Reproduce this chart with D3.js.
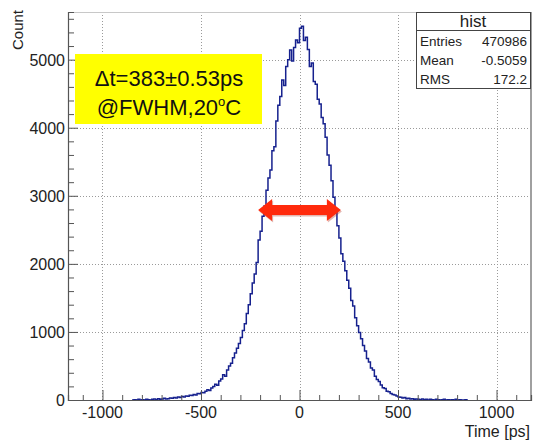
<!DOCTYPE html>
<html>
<head>
<meta charset="utf-8">
<script src="https://cdn.jsdelivr.net/npm/d3@7"></script>
<style>
  body { margin: 0; background: #fff; }
  svg { display: block; }
  text { font-family: "Liberation Sans", Arial, sans-serif; }
</style>
</head>
<body>
<div id="chart"></div>
<script>
// histogram of time differences, 10 ps bins starting at binStart
const binStart = -850;
const binWidth = 10;
const counts = [
  0, 5, 0, 10, 0, 5, 0, 10, 5, 0,
  10, 15, 5, 20, 10, 15, 25, 15, 20, 30,
  25, 35, 30, 45, 35, 50, 45, 60, 55, 70,
  65, 80, 75, 95, 90, 110, 105, 130, 150, 140,
  175, 200, 230, 215, 280, 310, 370, 350, 440, 500,
  540, 620, 690, 760, 830, 920, 1020, 1120, 1270, 1400,
  1560, 1720, 1850, 2020, 2350, 2480, 2700, 2850, 3080, 3260,
  3380, 3660, 3720, 4100, 4330, 4460, 4700, 4620, 4900, 5000,
  5140, 4980, 5180, 5290, 5250, 5460, 5490, 5280, 5330, 5150,
  4900, 4950, 4680, 4640, 4420, 4350, 4150, 4060, 3860, 3600,
  3450, 3220, 2980, 2800, 2560, 2380, 2150, 2040, 1900, 1760,
  1640, 1460, 1380, 1210, 1090, 990, 900, 800, 720, 610,
  560, 470, 440, 350, 300, 270, 220, 180, 170, 130,
  120, 95, 80, 75, 60, 45, 40, 30, 35, 20,
  25, 15, 20, 10, 15, 10, 5, 15, 5, 10,
  0, 10, 5, 0, 10, 5, 0, 5, 10, 0,
  5, 0, 5, 0, 10, 0, 5, 0, 0, 5
];

const xMajorTicks = [-1000, -500, 0, 500, 1000];
const yMajorTicks = [0, 1000, 2000, 3000, 4000, 5000];

const statsTitle = "hist";
const statsLabels = ["Entries", "Mean", "RMS"];
const statsValues = ["470986", "-0.5059", "172.2"];

// FWHM annotation
const fwhmRange = [-210, 210];
const fwhmLevel = 2790;

const width = 534, height = 441;
const frame = { left: 68, right: 531, top: 12, bottom: 400 };

const svg = d3.select('#chart').append('svg')
  .attr('width', width)
  .attr('height', height);

const x = d3.scaleLinear().domain([-1175, 1175]).range([frame.left, frame.right]);
const y = d3.scaleLinear().domain([0, 5700]).range([frame.bottom, frame.top]);

// grid
const grid = svg.append('g')
  .attr('stroke', '#9a9a9a')
  .attr('stroke-width', 1)
  .attr('stroke-dasharray', '1,2');
grid.selectAll('.gx').data(xMajorTicks).enter().append('line')
  .attr('x1', d => Math.round(x(d)) + 0.5).attr('x2', d => Math.round(x(d)) + 0.5)
  .attr('y1', frame.top).attr('y2', frame.bottom);
grid.selectAll('.gy').data(yMajorTicks.filter(d => d > 0)).enter().append('line')
  .attr('x1', frame.left).attr('x2', frame.right)
  .attr('y1', d => Math.round(y(d)) + 0.5).attr('y2', d => Math.round(y(d)) + 0.5);

// histogram as a step line
const pts = [[binStart, 0]];
counts.forEach((c, i) => pts.push([binStart + i * binWidth, c]));
pts.push([binStart + counts.length * binWidth, 0]);

const line = d3.line()
  .x(d => x(d[0]))
  .y(d => y(d[1]))
  .curve(d3.curveStepAfter);

svg.append('path')
  .attr('d', line(pts))
  .attr('fill', 'none')
  .attr('stroke', '#16218e')
  .attr('stroke-width', 1.5);

// frame
svg.append('line')
  .attr('x1', frame.left).attr('x2', frame.right)
  .attr('y1', frame.top + 0.5).attr('y2', frame.top + 0.5)
  .attr('stroke', '#c8c8c8');
svg.append('line')
  .attr('x1', frame.right).attr('x2', frame.right)
  .attr('y1', frame.top).attr('y2', frame.bottom)
  .attr('stroke', '#a0a0a0').attr('stroke-width', 2);

// axes, ROOT style ticks pointing inwards
const xAxis = d3.axisTop(x)
  .tickValues(d3.range(-1100, 1101, 100))
  .tickSize(5)
  .tickFormat('');
const xAxisG = svg.append('g').attr('transform', `translate(0,${frame.bottom})`).call(xAxis);
xAxisG.selectAll('.tick line').filter(d => d % 500 === 0).attr('y2', -10);

const yAxis = d3.axisRight(y)
  .tickValues(d3.range(0, 5601, 200))
  .tickSize(6)
  .tickFormat('');
const yAxisG = svg.append('g').attr('transform', `translate(${frame.left},0)`).call(yAxis);
yAxisG.selectAll('.tick line').filter(d => d % 1000 === 0).attr('x2', 10);

[xAxisG, yAxisG].forEach(g => {
  g.select('.domain').attr('stroke', '#555').attr('stroke-width', 1.2);
  g.selectAll('.tick line').attr('stroke', '#555');
});

// tick labels
svg.selectAll('.xl').data(xMajorTicks).enter().append('text')
  .attr('x', d => x(d))
  .attr('y', frame.bottom + 18)
  .attr('text-anchor', 'middle')
  .attr('font-size', 16)
  .attr('fill', '#222')
  .text(d => d);

svg.selectAll('.yl').data(yMajorTicks).enter().append('text')
  .attr('x', frame.left - 3)
  .attr('y', d => y(d) + 6)
  .attr('text-anchor', 'end')
  .attr('font-size', 16)
  .attr('fill', '#222')
  .text(d => d);

// axis titles
svg.append('text')
  .attr('transform', `translate(23,${frame.top - 2}) rotate(-90)`)
  .attr('text-anchor', 'end')
  .attr('font-size', 15)
  .attr('fill', '#222')
  .text('Count');

svg.append('text')
  .attr('x', frame.right - 1)
  .attr('y', 437)
  .attr('text-anchor', 'end')
  .attr('font-size', 16)
  .attr('fill', '#222')
  .text('Time [ps]');

// stats box
const sb = svg.append('g').attr('transform', 'translate(416,12)');
sb.append('rect')
  .attr('x', 0.5).attr('y', 0.5).attr('width', 114).attr('height', 76)
  .attr('fill', '#fff').attr('stroke', '#444');
sb.append('line')
  .attr('x1', 0.5).attr('x2', 114.5).attr('y1', 18.5).attr('y2', 18.5)
  .attr('stroke', '#444');
sb.append('text')
  .attr('x', 57).attr('y', 15)
  .attr('text-anchor', 'middle')
  .attr('font-size', 17)
  .attr('fill', '#222')
  .text(statsTitle);
statsLabels.forEach((lab, i) => {
  sb.append('text')
    .attr('x', 4).attr('y', 34 + i * 19)
    .attr('font-size', 13.5).attr('fill', '#222')
    .text(lab);
  sb.append('text')
    .attr('x', 111).attr('y', 34 + i * 19)
    .attr('text-anchor', 'end')
    .attr('font-size', 13.5).attr('fill', '#222')
    .text(statsValues[i]);
});

// yellow annotation box
const ann = svg.append('g');
ann.append('rect')
  .attr('x', 75).attr('y', 54).attr('width', 187).attr('height', 70)
  .attr('fill', '#ffff00');
ann.append('text')
  .attr('x', 169).attr('y', 86)
  .attr('text-anchor', 'middle')
  .attr('font-family', 'Lato, "Open Sans", sans-serif')
  .attr('font-size', 22)
  .attr('fill', '#111')
  .text('Δt=383±0.53ps');
const t2 = ann.append('text')
  .attr('x', 169).attr('y', 115)
  .attr('text-anchor', 'middle')
  .attr('font-family', 'Lato, "Open Sans", sans-serif')
  .attr('font-size', 22)
  .attr('fill', '#111');
t2.append('tspan').text('@FWHM,20');
t2.append('tspan').attr('font-size', 13).attr('dy', -9).text('o');
t2.append('tspan').attr('dy', 9).text('C');

// FWHM double arrow
const ax0 = x(fwhmRange[0]), ax1 = x(fwhmRange[1]), ay = y(fwhmLevel);
const head = 14, hh = 11, sh = 5;
const arrow = [
  [ax0, ay], [ax0 + head, ay - hh], [ax0 + head, ay - sh],
  [ax1 - head, ay - sh], [ax1 - head, ay - hh], [ax1, ay],
  [ax1 - head, ay + hh], [ax1 - head, ay + sh], [ax0 + head, ay + sh],
  [ax0 + head, ay + hh]
];
svg.append('polygon')
  .attr('points', arrow.map(p => [p[0] + 1, p[1] + 1.5].join(',')).join(' '))
  .attr('fill', '#b03020').attr('opacity', 0.35);
svg.append('polygon')
  .attr('points', arrow.map(p => p.join(',')).join(' '))
  .attr('fill', '#ff2a0c');
</script>
</body>
</html>
